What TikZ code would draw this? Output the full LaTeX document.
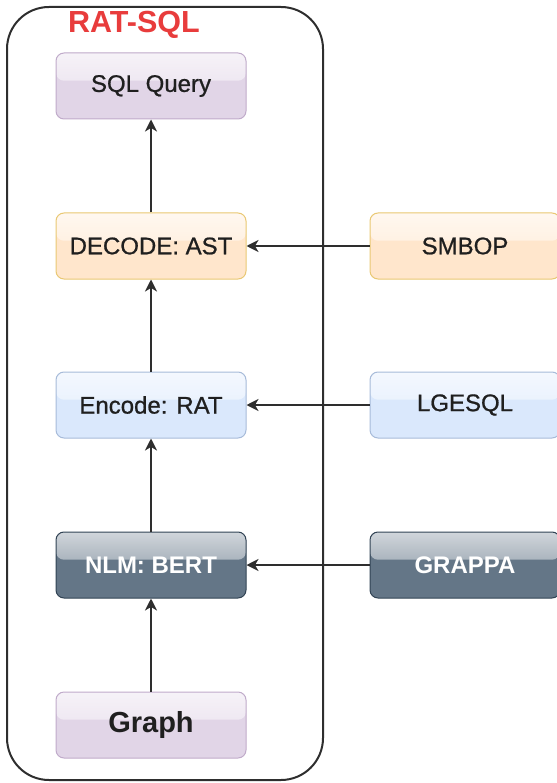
\documentclass[tikz,border=0pt]{standalone}
\usepackage{fontspec}
\setmainfont{Liberation Sans}
\usetikzlibrary{arrows.meta,calc}

\definecolor{purpleFill}{HTML}{E1D5E7}
\definecolor{purpleLine}{HTML}{9673A6}
\definecolor{orangeFill}{HTML}{FFE6CC}
\definecolor{orangeLine}{HTML}{D79B00}
\definecolor{blueFill}{HTML}{DAE8FC}
\definecolor{blueLine}{HTML}{6C8EBF}
\definecolor{slateFill}{HTML}{647687}
\definecolor{slateLine}{HTML}{314354}
\definecolor{titleRed}{HTML}{E83C3C}
\definecolor{edge}{HTML}{2E2E2E}

\tikzset{
  % glossy box: base fill, a lighter gradient over the upper part, thin border
  glassbox/.style n args={2}{
    draw=#2, fill=#1, line width=1pt, rounded corners=8pt,
    minimum width=190pt, minimum height=66pt, inner sep=0pt,
    font=\fontsize{24}{28}\selectfont\addfontfeature{FakeBold=0.8},
    text=black!88,
    path picture={
      \shade[top color=#1!30!white, bottom color=#1!88!white]
        (path picture bounding box.north west) rectangle
        ($(path picture bounding box.north east)!0.42!(path picture bounding box.south east)$);
    }
  },
  purplebox/.style={glassbox={purpleFill}{purpleLine!60!white}},
  orangebox/.style={glassbox={orangeFill}{orangeLine!55!white}},
  bluebox/.style={glassbox={blueFill}{blueLine!60!white}},
  slatebox/.style={glassbox={slateFill}{slateLine}, text=white,
    font=\fontsize{24}{28}\selectfont\bfseries},
  flow/.style={draw=edge, line width=1.6pt,
    -{Stealth[length=12pt, width=12pt, inset=3.5pt]}},
}

\begin{document}
\begin{tikzpicture}[x=1pt, y=-1pt]
  \useasboundingbox (0,0) rectangle (556,783);

  % RAT-SQL container
  \node[draw=edge, line width=2pt, rounded corners=42pt,
        minimum width=316pt, minimum height=773pt] (ratsql) at (165,393.5) {};
  \node[text=titleRed, font=\fontsize{30.5}{33}\selectfont\bfseries] (title) at (134,25) {RAT-SQL};

  % pipeline inside the container
  \node[purplebox] (sql) at (151,86) {SQL Query};
  \node[orangebox] (decode) at (151,246) {DECODE: AST};
  \node[bluebox] (encode) at (151,405) {Encode: RAT};
  \node[slatebox] (nlm) at (151,565) {NLM: BERT};
  \node[purplebox, font=\fontsize{29}{32}\selectfont\bfseries] (graph) at (151,725) {Graph};

  % alternative components
  \node[orangebox] (smbop) at (465,246) {SMBOP};
  \node[bluebox] (lgesql) at (465,405) {LGESQL};
  \node[slatebox] (grappa) at (465,565) {GRAPPA};

  % connectors
  \draw[flow] (graph) -- (nlm);
  \draw[flow] (nlm) -- (encode);
  \draw[flow] (encode) -- (decode);
  \draw[flow] (decode) -- (sql);
  \draw[flow] (smbop) -- (decode);
  \draw[flow] (lgesql) -- (encode);
  \draw[flow] (grappa) -- (nlm);
\end{tikzpicture}
\end{document}
